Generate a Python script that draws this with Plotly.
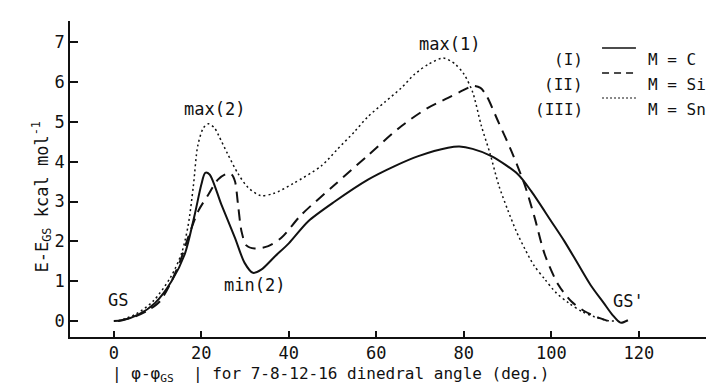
import plotly.graph_objects as go

# ---- data ----
x_c = [0, 2, 5.6, 9.4, 13.2, 16.2, 18.5, 20.0, 20.9, 21.9, 24.6, 27.7, 29.9, 31.8, 33.7, 36.8,
       40, 44.4, 50.5, 58.1, 64.2, 69.6, 76.4, 79, 82, 86.3, 92.4, 95.4, 100, 103, 106, 109,
       112, 114, 115.8, 117.5]
y_c = [0, 0.02, 0.16, 0.45, 1.0, 1.67, 2.67, 3.42, 3.72, 3.68, 2.92, 2.09, 1.46, 1.21, 1.29, 1.62,
       1.95, 2.5, 3.0, 3.55, 3.89, 4.14, 4.35, 4.38, 4.32, 4.14, 3.68, 3.26, 2.5, 2.0, 1.45, 0.9,
       0.45, 0.15, -0.04, 0.02]

x_si = [1, 5, 8, 10.5, 13.2, 15.5, 17, 19.3, 21.6, 23.8, 25.7, 26.9, 27.7, 28.4, 29.2, 30.3,
        32.2, 35.3, 38.3, 42.9, 50.5, 58.1, 65.7, 71.8, 76.4, 80, 82.1, 83.8, 85.2, 87.8, 90.9,
        93.9, 96.2, 98.5, 101.6, 104.6, 107.7, 110.5, 113]
y_si = [0, 0.12, 0.28, 0.49, 1.0, 1.6, 2.1, 2.76, 3.17, 3.55, 3.69, 3.68, 3.51, 2.92, 2.25, 1.9,
        1.82, 1.88, 2.09, 2.67, 3.42, 4.16, 4.89, 5.35, 5.6, 5.8, 5.9, 5.85, 5.65, 5.02, 4.26,
        3.42, 2.59, 1.67, 0.91, 0.49, 0.24, 0.1, 0.0]

x_sn = [1, 5, 9, 13, 15.5, 17, 18.2, 19.2, 20.5, 21.6, 23, 24, 26, 28.4, 30.7, 33.5, 36.5,
        41, 47.5, 51, 55, 58, 62, 65.7, 68.8, 72, 75.3, 78, 80, 82, 84, 86, 88, 90,
        92, 94, 96, 98.5, 101, 104, 107, 110, 113, 114.5]
y_sn = [0, 0.17, 0.5, 1.1, 1.7, 2.4, 3.4, 4.4, 4.85, 4.95, 4.85, 4.65, 4.2, 3.7, 3.35, 3.15, 3.2,
        3.45, 3.9, 4.3, 4.75, 5.12, 5.5, 5.85, 6.2, 6.45, 6.6, 6.45, 6.2, 5.75, 4.9, 4.2, 3.4, 2.8,
        2.25, 1.8, 1.4, 1.05, 0.72, 0.45, 0.24, 0.1, 0.01, 0.0]

x_ticks = [0, 20, 40, 60, 80, 100, 120]
y_ticks = [0, 1, 2, 3, 4, 5, 6, 7]

point_labels = ["GS", "max(2)", "min(2)", "max(1)", "GS'"]
point_x = [1.0, 23.1, 32.2, 76.8, 117.6]
point_y = [0.54, 5.33, 0.91, 6.95, 0.5]

legend_num = ["(I)", "(II)", "(III)"]
legend_txt = ["M = C", "M = Si", "M = Sn"]

FONT = "DejaVu Sans Mono"
INK = "#111111"
FS = 17

fig = go.Figure()
styles = [dict(width=2, dash="solid"), dict(width=2, dash="11px,7px"), dict(width=1.5, dash="2px,3px")]
for xs, ys, st, nm in zip([x_c, x_si, x_sn], [y_c, y_si, y_sn], styles, legend_txt):
    fig.add_trace(go.Scatter(x=xs, y=ys, mode="lines", name=nm, showlegend=False,
                             line=dict(color=INK, width=st["width"], dash=st["dash"],
                                       shape="spline", smoothing=0.8)))

annotations = []
for t, xx, yy in zip(point_labels, point_x, point_y):
    annotations.append(dict(x=xx, y=yy, xref="x", yref="y", text=t, showarrow=False,
                            font=dict(family=FONT, size=FS, color=INK)))

# legend (drawn manually to mimic "(I) —— M = C")
row_y = [0.9146, 0.8354, 0.7563]
leg_styles = [dict(width=1.5, dash="solid"), dict(width=1.5, dash="7px,5px"), dict(width=1.2, dash="2px,2px")]
shapes = []
for num, txt, ry, st in zip(legend_num, legend_txt, row_y, leg_styles):
    annotations.append(dict(x=0.790, y=ry, xref="paper", yref="paper", text=num, showarrow=False,
                            xanchor="right", font=dict(family=FONT, size=16, color=INK)))
    annotations.append(dict(x=0.884, y=ry, xref="paper", yref="paper", text=txt, showarrow=False,
                            xanchor="left", font=dict(family=FONT, size=16, color=INK)))
    shapes.append(dict(type="line", xref="paper", yref="paper", x0=0.816, x1=0.868, y0=ry, y1=ry,
                       line=dict(color=INK, width=st["width"], dash=st["dash"])))

# axis titles
annotations.append(dict(x=-0.066, y=0.446, xref="paper", yref="paper", textangle=-90,
                        text="E-E<sub>GS</sub> kcal mol<sup>-1</sup>", showarrow=False,
                        font=dict(family=FONT, size=FS, color=INK)))
annotations.append(dict(x=0.062, y=-0.158, xref="paper", yref="paper", xanchor="left", yanchor="bottom",
                        text="| φ-φ<sub>GS</sub>  | for 7-8-12-16 dinedral angle (deg.)",
                        showarrow=False, font=dict(family=FONT, size=16, color=INK)))

fig.update_layout(
    width=714, height=384,
    margin=dict(l=62, r=0, t=13, b=55),
    paper_bgcolor="white", plot_bgcolor="white",
    annotations=annotations, shapes=shapes,
    font=dict(family=FONT, size=FS, color=INK),
)
fig.update_xaxes(range=[-10, 139], tickvals=x_ticks, ticks="inside", ticklen=6, tickwidth=1.5,
                 tickcolor=INK, showline=True, linecolor=INK, linewidth=1.5, showgrid=False,
                 zeroline=False, tickfont=dict(family=FONT, size=17, color=INK))
fig.update_yaxes(range=[-0.4, 7.53], tickvals=y_ticks, ticks="inside", ticklen=8, tickwidth=1.5,
                 tickcolor=INK, showline=True, linecolor=INK, linewidth=1.5, showgrid=False,
                 zeroline=False, tickfont=dict(family=FONT, size=17, color=INK))

fig.write_html("out.html")
